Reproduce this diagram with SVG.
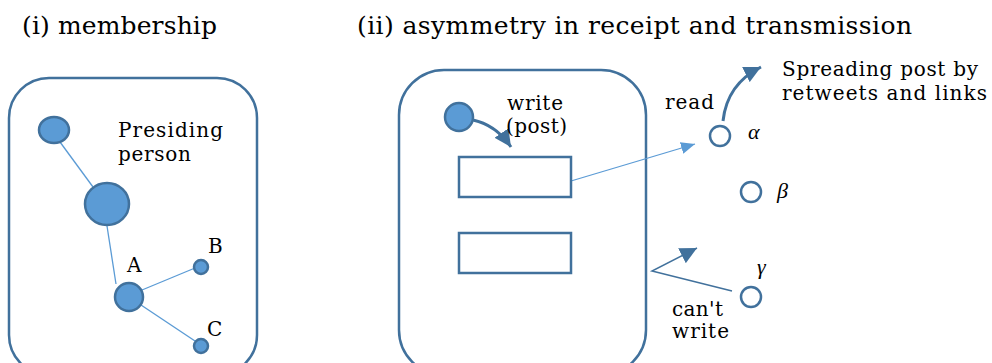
<svg xmlns="http://www.w3.org/2000/svg" width="992" height="363" viewBox="0 0 992 363">
<style>
text{font-family:"DejaVu Serif","Liberation Serif",serif;fill:#000}
.t{font-size:25px}
.l{font-size:20px}
.g{font-size:22px;font-style:italic;font-family:"Liberation Serif","DejaVu Serif",serif}
.box{fill:none;stroke:#41719c;stroke-width:2.5}
.fn{fill:#5b9bd5;stroke:#41719c;stroke-width:2.5}
.hn{fill:#fff;stroke:#41719c;stroke-width:2.5}
.post{fill:#fff;stroke:#41719c;stroke-width:2.5}
.lk{stroke:#5b9bd5;stroke-width:1.3;fill:none}
.dk{stroke:#41719c;stroke-width:1.5;fill:none}
.ar{stroke:#41719c;stroke-width:3;fill:none}
</style>
<defs>
<marker id="mD" markerUnits="userSpaceOnUse" markerWidth="18" markerHeight="18" refX="15" refY="7.5" orient="auto" viewBox="0 0 16 15">
<path d="M0,0 L15,7.5 L0,15 z" fill="#41719c"/>
</marker>
<marker id="mL" markerUnits="userSpaceOnUse" markerWidth="16" markerHeight="16" refX="14" refY="6" orient="auto" viewBox="0 0 16 12">
<path d="M0,0 L14,6 L0,12 z" fill="#5b9bd5"/>
</marker>
</defs>
<text class="t" x="22" y="34" textLength="195">(i) membership</text>
<text class="t" x="357" y="34" textLength="555">(ii) asymmetry in receipt and transmission</text>

<g id="panel1">
<rect class="box" x="9" y="78" width="248" height="297" rx="40"/>
</g>
<g id="panel2">
<rect class="box" x="399" y="70" width="247" height="305" rx="45"/>
</g>

<g id="connectors">
<line class="lk" x1="60" y1="142" x2="93" y2="187"/>
<line class="lk" x1="107" y1="226" x2="116" y2="284"/>
<line class="lk" x1="142" y1="290" x2="195" y2="268"/>
<line class="lk" x1="141" y1="305" x2="195" y2="341"/>
<path class="ar" d="M473,120 Q496,125 511,147" marker-end="url(#mD)"/>
<line class="lk" x1="571" y1="181" x2="695" y2="144" marker-end="url(#mL)"/>
<path class="ar" d="M723,121 Q727,84 761,67" marker-end="url(#mD)"/>
<polyline class="dk" points="732,291 652,271 697,248" marker-end="url(#mD)"/>
</g>

<g id="presiding-top"><ellipse class="fn" cx="54" cy="130" rx="15" ry="13"/></g>
<g id="presiding-main"><ellipse class="fn" cx="107" cy="204" rx="22" ry="21"/></g>
<g id="node-A"><circle class="fn" cx="129" cy="297" r="14"/><text class="l" x="127" y="272" textLength="16">A</text></g>
<g id="node-B"><circle class="fn" cx="201" cy="267" r="7"/><text class="l" x="208" y="253" textLength="14">B</text></g>
<g id="node-C"><circle class="fn" cx="201" cy="346" r="7"/><text class="l" x="207" y="336" textLength="15">C</text></g>
<g id="label-presiding"><text class="l" x="118" y="137" textLength="105">Presiding</text><text class="l" x="118" y="161" textLength="73">person</text></g>

<g id="writer"><circle class="fn" cx="459" cy="117" r="14"/><text class="l" x="507" y="110" textLength="56">write</text><text class="l" x="506" y="133" textLength="61">(post)</text></g>
<g id="post1"><rect class="post" x="459" y="157" width="112" height="40"/></g>
<g id="post2"><rect class="post" x="459" y="233" width="112" height="40"/></g>
<g id="alpha"><circle class="hn" cx="720" cy="136" r="10"/><text class="g" x="748" y="139">α</text></g>
<g id="beta"><circle class="hn" cx="751" cy="192" r="10"/><text class="g" x="777" y="198">β</text></g>
<g id="gamma"><circle class="hn" cx="751" cy="297" r="10"/><text class="g" x="757" y="274">γ</text></g>
<g id="label-read"><text class="l" x="665" y="109" textLength="49">read</text></g>
<g id="label-spread"><text class="l" x="782" y="76" textLength="196">Spreading post by</text><text class="l" x="782" y="100" textLength="205">retweets and links</text></g>
<g id="label-cantwrite"><text class="l" x="672" y="316" textLength="51">can't</text><text class="l" x="672" y="338" textLength="57">write</text></g>
</svg>
